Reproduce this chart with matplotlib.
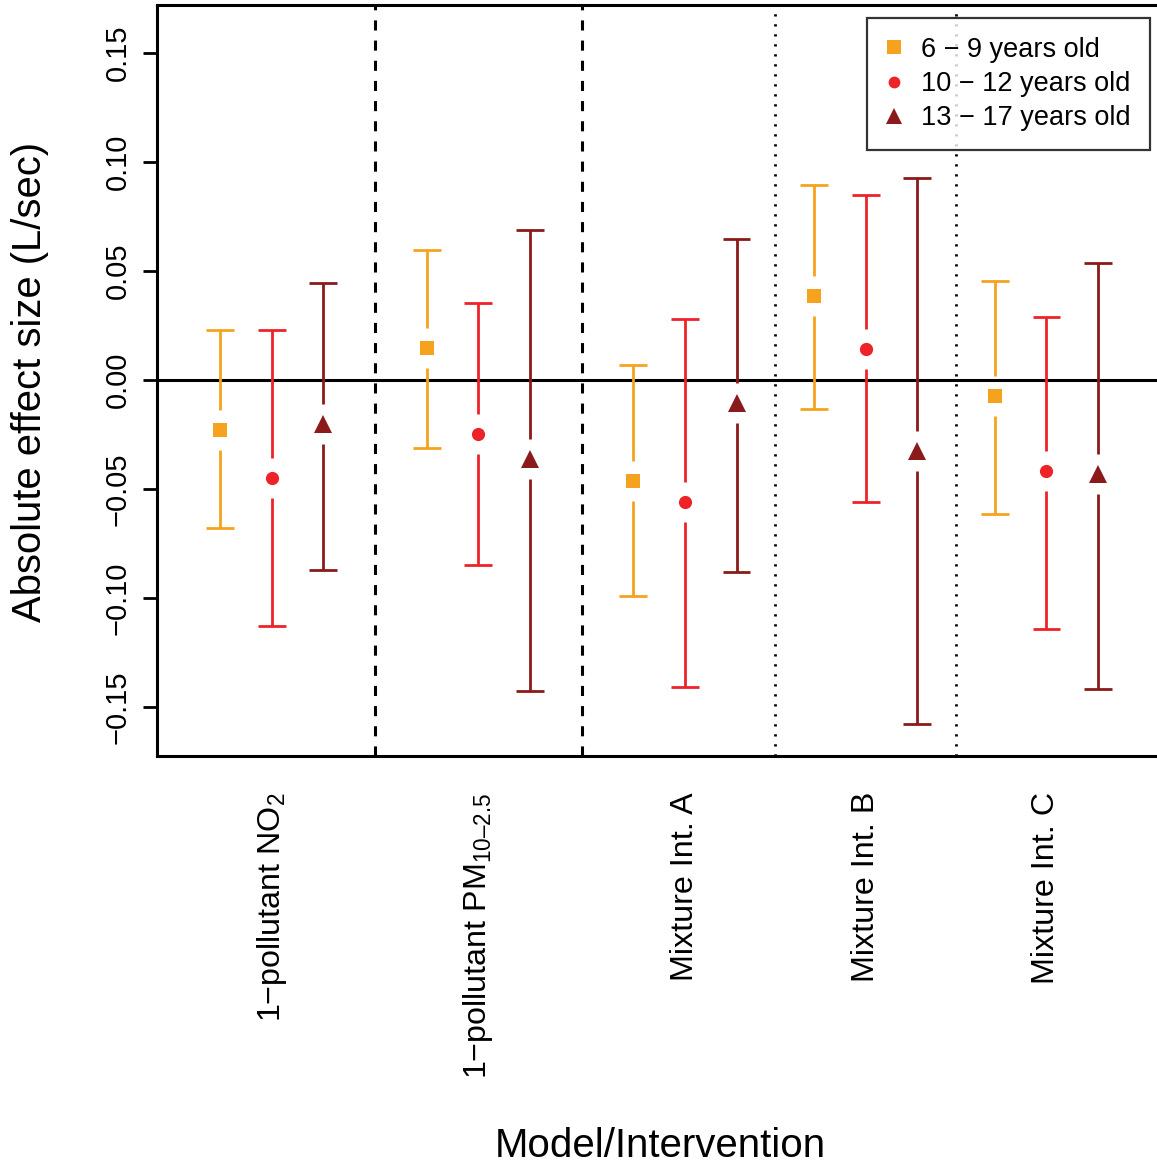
import matplotlib
matplotlib.use("Agg")
import matplotlib.pyplot as plt
from matplotlib.lines import Line2D
import numpy as np

plt.rcParams['font.family'] = ['Liberation Sans', 'DejaVu Sans']
plt.rcParams['mathtext.fontset'] = 'custom'
plt.rcParams['mathtext.rm'] = 'Liberation Sans'
plt.rcParams['mathtext.it'] = 'Liberation Sans:italic'
plt.rcParams['mathtext.bf'] = 'Liberation Sans:bold'

# ---- data ----
categories = ["1\u2212pollutant NO$_2$", "1\u2212pollutant PM$_{\\mathrm{10\u20132.5}}$",
              "Mixture Int. A", "Mixture Int. B", "Mixture Int. C"]
series = ["6 \u2212 9 years old", "10 \u2212 12 years old", "13 \u2212 17 years old"]

est_6_9 = [-0.0229, 0.0147, -0.0463, 0.0385, -0.0073]
lo_6_9 = [-0.0679, -0.0312, -0.0991, -0.0133, -0.0615]
hi_6_9 = [0.0229, 0.0596, 0.0069, 0.0894, 0.0454]

est_10_12 = [-0.0450, -0.0248, -0.0560, 0.0142, -0.0417]
lo_10_12 = [-0.1130, -0.0849, -0.1408, -0.0560, -0.1142]
hi_10_12 = [0.0230, 0.0353, 0.0280, 0.0849, 0.0289]

est_13_17 = [-0.0200, -0.0362, -0.0106, -0.0326, -0.0431]
lo_13_17 = [-0.0870, -0.1427, -0.0881, -0.1578, -0.1417]
hi_13_17 = [0.0445, 0.0688, 0.0647, 0.0927, 0.0537]

yticks = [-0.15, -0.10, -0.05, 0.00, 0.05, 0.10, 0.15]
ytick_labels = ["\u22120.15", "\u22120.10", "\u22120.05", "0.00", "0.05", "0.10", "0.15"]

group_centers = [2, 6, 10, 13.5, 17]
offsets = [-1, 0, 1]

colors = ["#F5A31F", "#EE2229", "#8B1A1A"]
markers = ["s", "o", "^"]
msizes = [10.5, 9.5, 13]

ests = [est_6_9, est_10_12, est_13_17]
los = [lo_6_9, lo_10_12, lo_13_17]
his = [hi_6_9, hi_10_12, hi_13_17]

W, H = 1157, 1168
fig = plt.figure(figsize=(W / 100, H / 100), dpi=100)
ax = fig.add_axes([157 / W, 1 - 756 / H, 1 - 157 / W, (756 - 5) / H])

ylim = (-0.1725, 0.172)
ax.set_ylim(*ylim)
ax.set_xlim(-0.22, 19.14)

ax_h_px = (756 - 5)
gap = 20 * (ylim[1] - ylim[0]) / ax_h_px
cap = 0.27

ax.axhline(0, color="black", lw=2.2, zorder=1)
for xv, ls, lw in [(4, (0, (3.3, 3.3)), 2.2), (8, (0, (3.3, 3.3)), 2.2),
                   (11.75, (0, (0.8, 2.8)), 2.0), (15.25, (0, (0.8, 2.8)), 2.0)]:
    ax.axvline(xv, color="black", lw=lw, linestyle=ls, zorder=1)

for s in range(3):
    xs = np.array(group_centers) + offsets[s]
    for i, x in enumerate(xs):
        y, lo, hi = ests[s][i], los[s][i], his[s][i]
        ax.vlines(x, lo, y - gap, color=colors[s], lw=2.0, zorder=2)
        ax.vlines(x, y + gap, hi, color=colors[s], lw=2.0, zorder=2)
        ax.hlines([lo, hi], x - cap, x + cap, color=colors[s], lw=2.0, zorder=2)
    ax.plot(xs, ests[s], linestyle="none", marker=markers[s], color=colors[s],
            markersize=msizes[s], markeredgewidth=0, zorder=3)

for sp in ["left", "bottom", "top"]:
    ax.spines[sp].set_linewidth(2.2)
ax.spines["right"].set_visible(False)

ax.set_yticks(yticks)
ax.set_yticklabels(ytick_labels, rotation=90, va="center", fontsize=21)
ax.tick_params(axis="y", length=10, width=2, pad=8)
ax.set_xticks(group_centers)
ax.set_xticklabels(categories, rotation=90, fontsize=23.2, va="top", ha="center")
ax.tick_params(axis="x", length=0, pad=26)

fig.text(30 / W, 1 - 382 / H, "Absolute effect size (L/sec)", fontsize=28.8,
         rotation=90, ha="center", va="center")
fig.text(660 / W, 1 - 1146 / H, "Model/Intervention", fontsize=29, ha="center", va="center")

handles = [Line2D([], [], linestyle="none", marker=markers[s], color=colors[s],
                  markersize=[9.5, 8.5, 12][s], markeredgewidth=0) for s in range(3)]
leg = ax.legend(handles, series, loc="upper right",
                bbox_to_anchor=((1150 - 157) / (W - 157), 1 - 13 / ax_h_px),
                fontsize=19.5, frameon=True, fancybox=False, edgecolor="black",
                handlelength=0.6, handletextpad=0.7, borderpad=0.7, labelspacing=0.3,
                borderaxespad=0)
leg.get_frame().set_linewidth(1.6)

fig.savefig("out.png", dpi=100)
